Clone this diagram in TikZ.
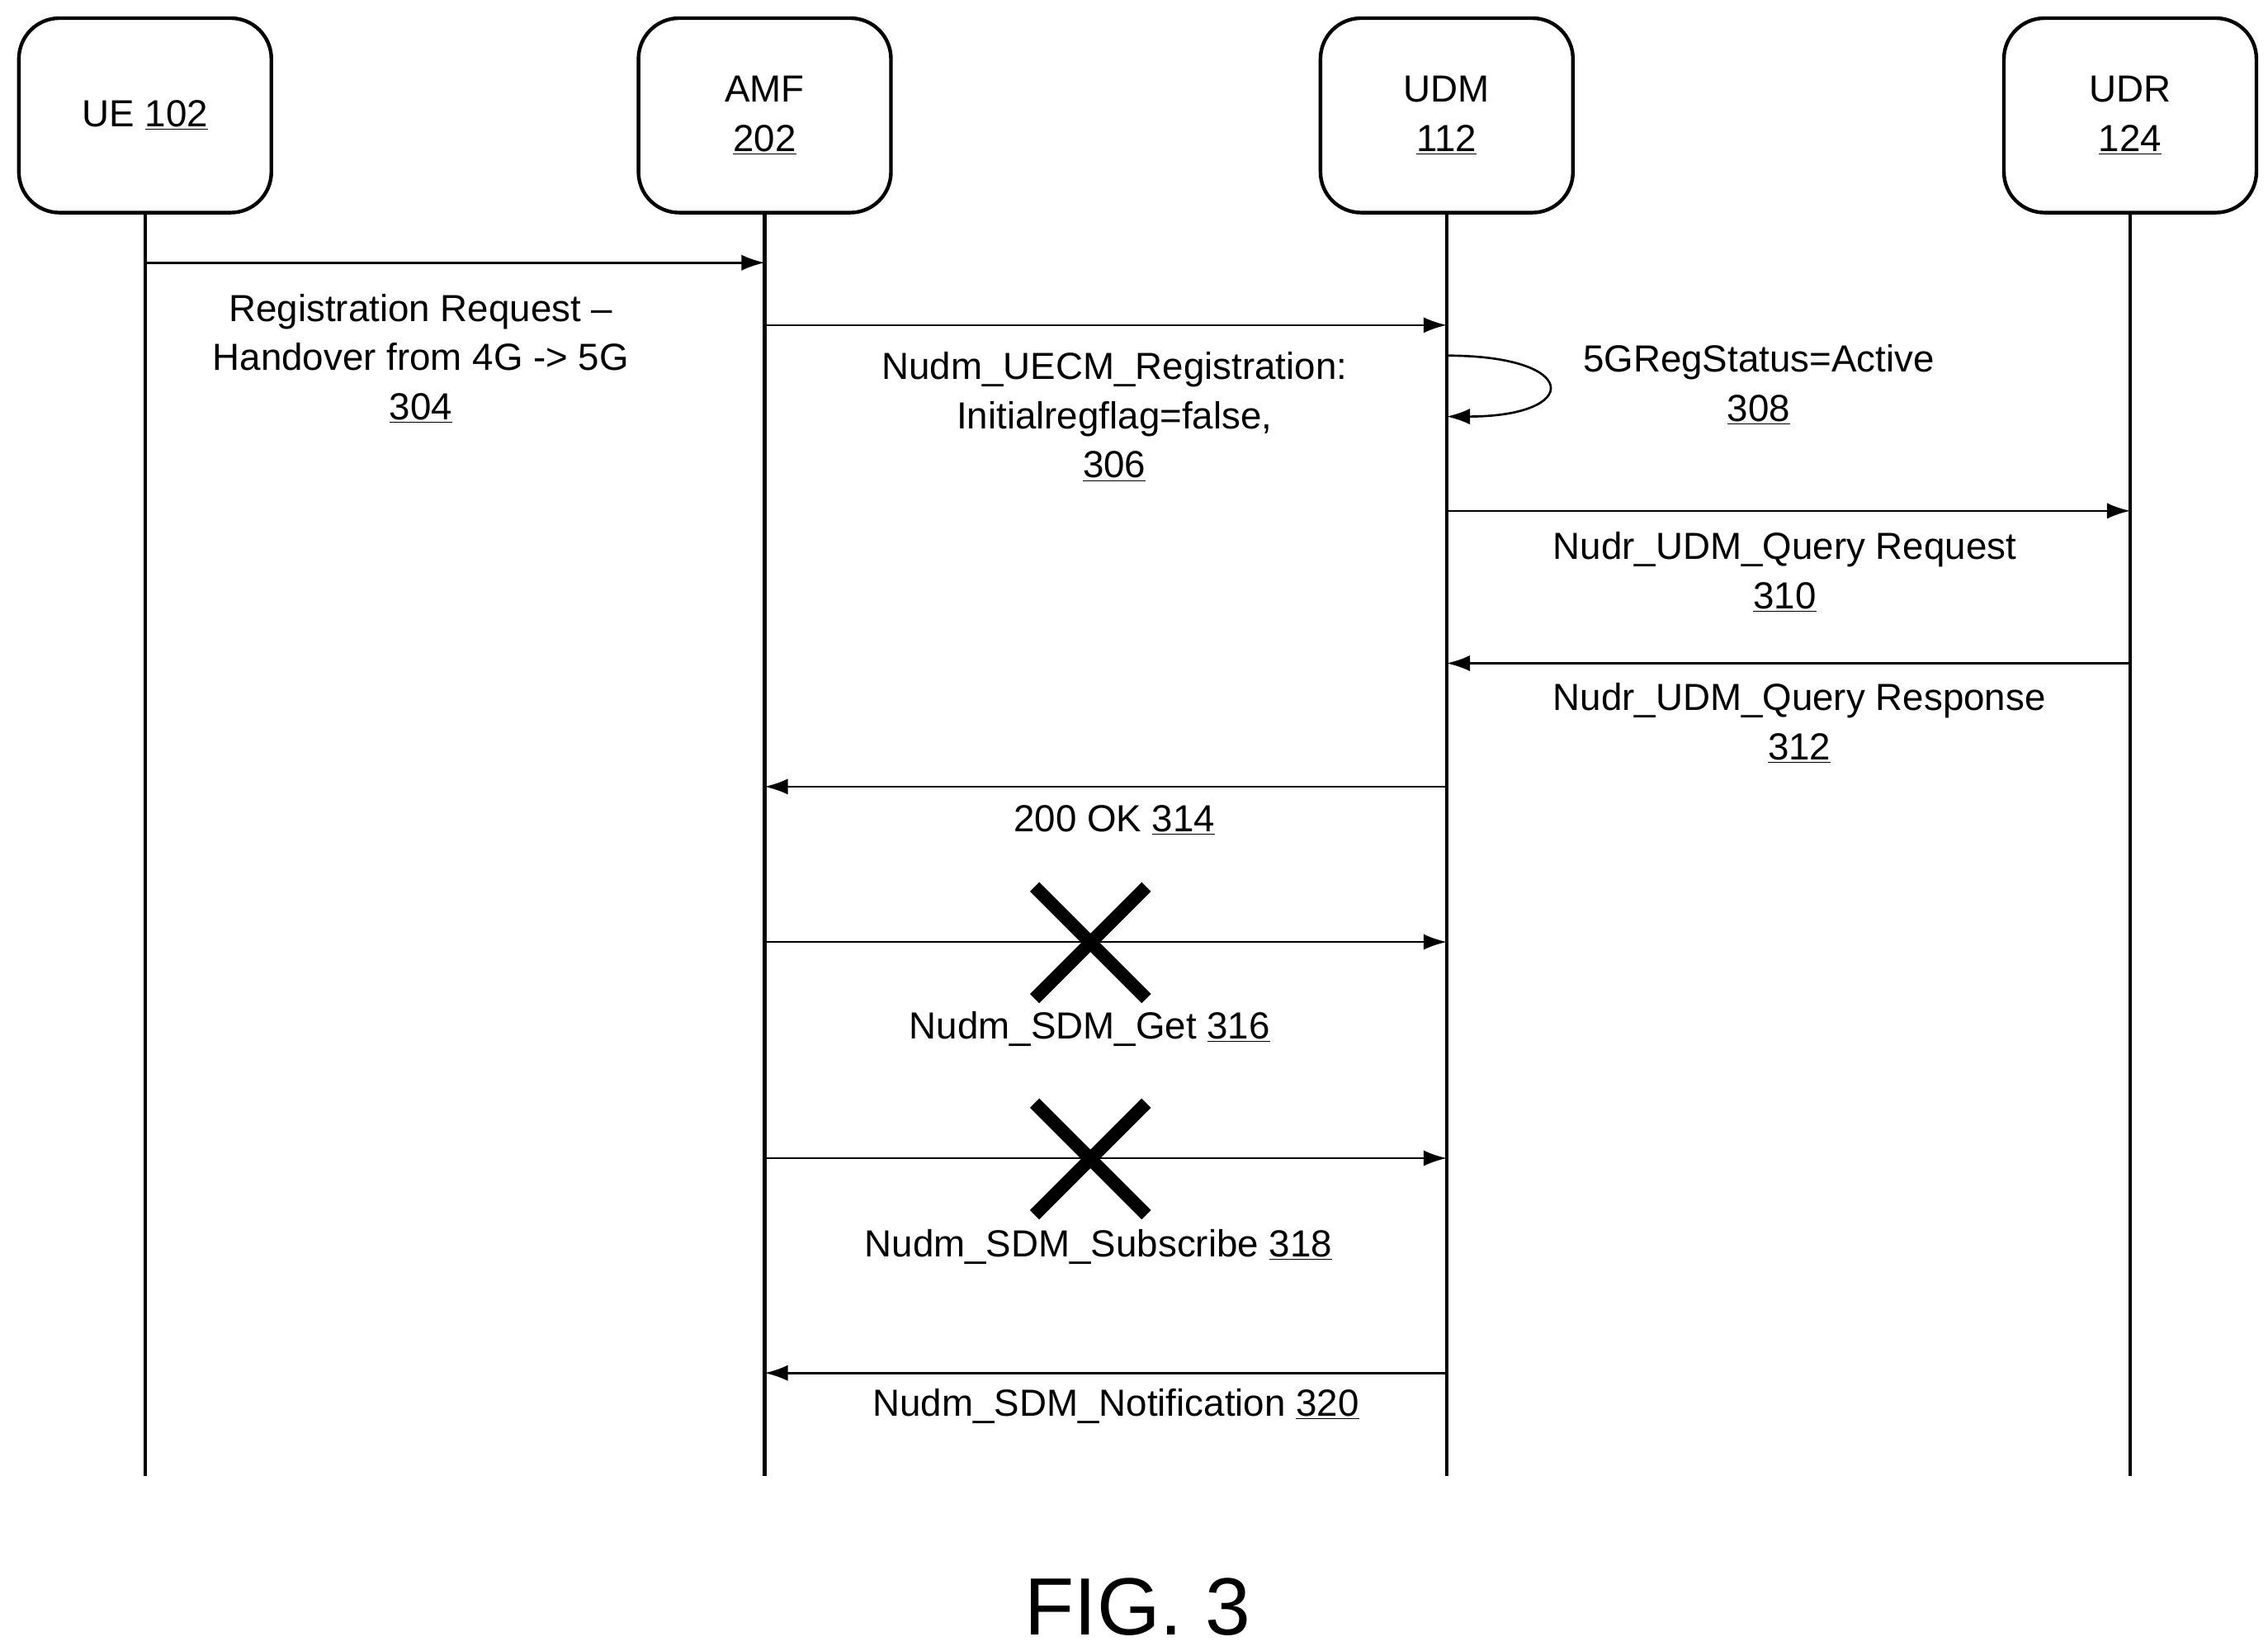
\documentclass[tikz,border=0pt]{standalone}
\usepackage{fontspec}
\setmainfont{Liberation Sans}
\usetikzlibrary{arrows.meta}
\begin{document}
\begin{tikzpicture}[x=1pt,y=-1pt,
  ent/.style={draw,line width=2.5pt,rounded corners=28pt,minimum width=174pt,minimum height=134pt,align=center,font=\fontsize{26}{34}\selectfont},
  life/.style={line width=2.5pt},
  msg/.style={line width=1.5pt,-{Latex[length=16pt,width=11pt]}},
  lbl/.style={align=center,font=\fontsize{26}{34}\selectfont},
  cross/.style={line width=9pt}]
\useasboundingbox (0,0) rectangle (1563,1137);
\node[ent] (ue) at (100,79.5) {UE \underline{102}};
\node[ent] (amf) at (527,79.5) {AMF\\\underline{202}};
\node[ent] (udm) at (997,79.5) {UDM\\\underline{112}};
\node[ent] (udr) at (1468,79.5) {UDR\\\underline{124}};
\foreach \n in {ue,amf,udm,udr} {
  \coordinate (\n-end) at (\n |- 0,1017);
  \draw[life] (\n.south) -- (\n-end);
}
\draw[msg] (ue |- 0,181) -- (amf |- 0,181);
\node[lbl] (l304) at (290,247) {Registration Request --\\Handover from 4G -> 5G\\\underline{304}};
\draw[msg] (amf |- 0,224) -- (udm |- 0,224);
\node[lbl] (l306) at (768,287) {Nudm\_UECM\_Registration:\\Initialregflag=false,\\\underline{306}};
\draw[msg] (udm |- 0,245) .. controls (1090,245) and (1090,287) .. (udm |- 0,287);
\node[lbl] (l308) at (1212,265) {5GRegStatus=Active\\\underline{308}};
\draw[msg] (udm |- 0,352) -- (udr |- 0,352);
\node[lbl] (l310) at (1230,394) {Nudr\_UDM\_Query Request\\\underline{310}};
\draw[msg] (udr |- 0,457) -- (udm |- 0,457);
\node[lbl] (l312) at (1240,498) {Nudr\_UDM\_Query Response\\\underline{312}};
\draw[msg] (udm |- 0,542) -- (amf |- 0,542);
\node[lbl] (l314) at (768,565) {200 OK \underline{314}};
\draw[msg] (amf |- 0,649) -- (udm |- 0,649);
\draw[cross] (713,611) -- (790,688) (790,611) -- (713,688);
\node[lbl] (l316) at (751,709) {Nudm\_SDM\_Get \underline{316}};
\draw[msg] (amf |- 0,798) -- (udm |- 0,798);
\draw[cross] (713,760) -- (790,837) (790,760) -- (713,837);
\node[lbl] (l318) at (757,859) {Nudm\_SDM\_Subscribe \underline{318}};
\draw[msg] (udm |- 0,946) -- (amf |- 0,946);
\node[lbl] (l320) at (769,969) {Nudm\_SDM\_Notification \underline{320}};
\node[font=\fontsize{56}{60}\selectfont] (fig) at (784,1107) {FIG. 3};
\end{tikzpicture}
\end{document}
